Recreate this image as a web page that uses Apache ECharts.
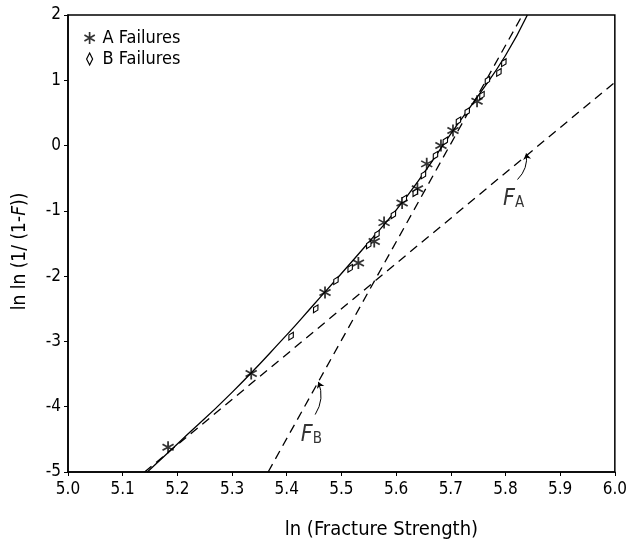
<!DOCTYPE html>
<html>
<head>
<meta charset="utf-8">
<script src="https://cdn.jsdelivr.net/npm/echarts@6/dist/echarts.min.js"></script>
<style>
html,body{margin:0;padding:0;background:#fff;}
#chart{width:630px;height:546px;}
</style>
</head>
<body>
<div id="chart"></div>
<script>
// ---- data ----
var xTicks = [5.0, 5.1, 5.2, 5.3, 5.4, 5.5, 5.6, 5.7, 5.8, 5.9, 6.0];
var yTicks = [-5, -4, -3, -2, -1, 0, 1, 2];

var aX = [5.183, 5.335, 5.470, 5.531, 5.560, 5.578, 5.611, 5.639, 5.656, 5.682, 5.704, 5.748];
var aY = [-4.62, -3.49, -2.25, -1.80, -1.47, -1.18, -0.88, -0.66, -0.28, 0.00, 0.23, 0.68];

var bX = [5.408, 5.453, 5.490, 5.516, 5.550, 5.565, 5.595, 5.615, 5.635, 5.650, 5.672, 5.690, 5.714, 5.730, 5.757, 5.767, 5.788, 5.797];
var bY = [-2.92, -2.50, -2.07, -1.88, -1.52, -1.36, -1.06, -0.82, -0.72, -0.45, -0.15, 0.07, 0.38, 0.52, 0.77, 1.00, 1.12, 1.27];

var curveX = [5.145, 5.20, 5.30, 5.40, 5.45, 5.50, 5.55, 5.60, 5.65, 5.70, 5.75, 5.80, 5.84];
var curveY = [-5.00, -4.57, -3.78, -2.90, -2.43, -1.96, -1.48, -0.99, -0.43, 0.18, 0.76, 1.38, 2.00];

var faX = [5.14, 6.0];
var faY = [-5.0, 0.97];
var fbX = [5.366, 5.831];
var fbY = [-5.0, 2.0];

var labelA = {x: 5.815, y: -0.80, sub: 'A'};
var labelB = {x: 5.445, y: -4.42, sub: 'B'};
var arrowA = [[5.822, -0.52], [5.838, -0.12]];
var arrowB = [[5.452, -4.12], [5.458, -3.62]];

function zip(xs, ys) { return xs.map(function (x, i) { return [x, ys[i]]; }); }

var FONT = 'DejaVu Sans Condensed, DejaVu Sans, sans-serif';
var ASTER = 'path://M-1.4,-10L1.4,-10L1.4,10L-1.4,10ZM-9.36,-3.79L-7.96,-6.21L9.36,3.79L7.96,6.21ZM7.96,-6.21L9.36,-3.79L-7.96,6.21L-9.36,3.79Z';
var DIAM = 'path://M0,-7L3.5,0L0,7L-3.5,0Z';

var chart = echarts.init(document.getElementById('chart'), null, {renderer: 'canvas'});

var labelRich = {
  f: {fontFamily: FONT, fontSize: 23, fontStyle: 'italic', color: '#000', verticalAlign: 'bottom'},
  s: {fontFamily: FONT, fontSize: 15, color: '#000', verticalAlign: 'top', padding: [10, 0, 0, 0]}
};

var option = {
  backgroundColor: '#fff',
  animation: false,
  grid: {left: 68, right: 13, top: 15, bottom: 74, show: true, borderColor: '#000', borderWidth: 1.5, backgroundColor: 'transparent'},
  legend: {
    left: 79, top: 24, orient: 'vertical', itemGap: 3, itemWidth: 12, itemHeight: 12,
    textStyle: {fontFamily: FONT, fontSize: 18, color: '#000', padding: [0, 0, 0, 2]},
    data: [
      {name: 'A Failures', icon: ASTER, itemStyle: {color: '#000'}},
      {name: 'B Failures', icon: DIAM, itemStyle: {color: '#fff', borderColor: '#000', borderWidth: 1.2}}
    ]
  },
  xAxis: {
    type: 'value', min: 5.0, max: 6.0, interval: 0.1,
    name: 'ln (Fracture Strength)', nameLocation: 'middle', nameGap: 48,
    nameTextStyle: {fontFamily: FONT, fontSize: 20, color: '#000', padding: [0, 0, 0, 80]},
    axisLine: {onZero: false, lineStyle: {color: '#000', width: 1.5}},
    axisTick: {show: true, length: 4, lineStyle: {color: '#000'}},
    splitLine: {show: false},
    axisLabel: {fontFamily: FONT, fontSize: 17, color: '#000', margin: 9,
      formatter: function (v) { return v.toFixed(1); }}
  },
  yAxis: {
    type: 'value', min: -5, max: 2, interval: 1,
    name: 'ln ln (1/ (1-{i|F}))', nameLocation: 'middle', nameGap: 38,
    nameTextStyle: {fontFamily: FONT, fontSize: 19, color: '#000', padding: [0, 16, 0, 0],
      rich: {i: {fontFamily: FONT, fontSize: 19, fontStyle: 'italic', color: '#000'}}},
    axisLine: {onZero: false, lineStyle: {color: '#000', width: 1.5}},
    axisTick: {show: true, length: 4, lineStyle: {color: '#000'}},
    splitLine: {show: false},
    axisLabel: {fontFamily: FONT, fontSize: 17, color: '#000', margin: 7,
      formatter: function (v) { return String(v); }}
  },
  series: [
    {type: 'line', name: 'fit', data: zip(curveX, curveY), smooth: true, symbol: 'none',
      lineStyle: {color: '#000', width: 1.3}, silent: true, z: 2},
    {type: 'line', name: 'FA', data: zip(faX, faY), symbol: 'none',
      lineStyle: {color: '#000', width: 1.3, type: [9, 6]}, silent: true, z: 2},
    {type: 'line', name: 'FB', data: zip(fbX, fbY), symbol: 'none',
      lineStyle: {color: '#000', width: 1.3, type: [9, 6]}, silent: true, z: 2},
    {type: 'scatter', name: 'A Failures', data: zip(aX, aY), symbol: ASTER, symbolSize: 12,
      itemStyle: {color: '#000'}, z: 4},
    {type: 'scatter', name: 'B Failures', data: zip(bX, bY), symbol: DIAM, symbolSize: [5, 9], symbolRotate: -30,
      itemStyle: {color: '#fff', borderColor: '#000', borderWidth: 1.2, opacity: 1}, z: 4},
    {type: 'scatter', name: 'labels', symbolSize: 0, silent: true, z: 5,
      data: [[labelA.x, labelA.y, labelA.sub], [labelB.x, labelB.y, labelB.sub]],
      label: {show: true, position: 'inside', rich: labelRich,
        formatter: function (p) { return '{f|F}{s|' + p.value[2] + '}'; }}},
    {type: 'lines', coordinateSystem: 'cartesian2d', silent: true, z: 5,
      symbol: ['none', 'arrow'], symbolSize: 6,
      lineStyle: {color: '#000', width: 1, curveness: -0.25, opacity: 1},
      data: [{coords: arrowA}, {coords: arrowB}]}
  ]
};
chart.setOption(option);
</script>
</body>
</html>
